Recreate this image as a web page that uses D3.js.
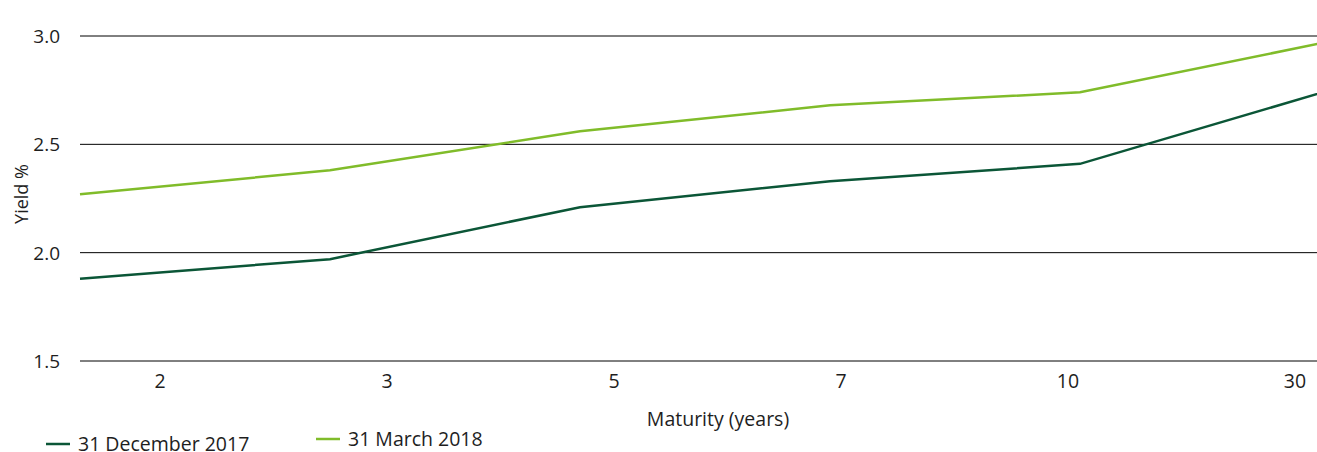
<!DOCTYPE html>
<meta charset="utf-8">
<script src="https://d3js.org/d3.v7.min.js"></script>
<style>
  body { margin: 0; background: #fff; }
  text { font-family: "Open Sans", sans-serif; fill: #1e1e1e; }
</style>
<div id="chart"></div>
<script>
// data
const maturities = ["2", "3", "5", "7", "10", "30"];
const dec2017 = [1.88, 1.97, 2.21, 2.33, 2.41, 2.75];
const mar2018 = [2.27, 2.38, 2.56, 2.68, 2.74, 2.975];
const yTicks = [1.5, 2.0, 2.5, 3.0];
const seriesNames = ["31 December 2017", "31 March 2018"];
const colors = ["#0b5637", "#80bc2a"];

const W = 1317, H = 452;
const svg = d3.select("#chart").append("svg")
  .attr("width", W).attr("height", H);

svg.append("clipPath").attr("id", "clip")
  .append("rect").attr("x", 0).attr("y", 0).attr("width", W).attr("height", H);

const y = d3.scaleLinear().domain([1.5, 3.0]).range([361, 36]);
// line points are spaced evenly, last one runs past the right edge
const x = d3.scalePoint().domain(maturities).range([80, 1330]);
// tick labels sit on their own spacing
const xLab = d3.scalePoint().domain(maturities).range([160, 1295]);

// gridlines
svg.append("g").selectAll("line").data(yTicks).enter().append("line")
  .attr("x1", 80).attr("x2", W)
  .attr("y1", d => y(d)).attr("y2", d => y(d))
  .attr("stroke", "#000").attr("stroke-width", 1);

// y labels
svg.append("g").selectAll("text").data(yTicks).enter().append("text")
  .attr("x", 60).attr("y", d => y(d) + 7)
  .attr("text-anchor", "end")
  .style("font-size", "19px")
  .text(d => d.toFixed(1));

svg.append("text")
  .attr("transform", "translate(28,194) rotate(-90)")
  .attr("text-anchor", "middle")
  .style("font-size", "18px")
  .text("Yield %");

// x labels
svg.append("g").selectAll("text").data(maturities).enter().append("text")
  .attr("x", d => xLab(d)).attr("y", 388)
  .attr("text-anchor", "middle")
  .style("font-size", "19.5px")
  .text(d => d);

svg.append("text")
  .attr("x", 718).attr("y", 426)
  .attr("text-anchor", "middle")
  .style("font-size", "19.5px")
  .text("Maturity (years)");

// lines
const line = d3.line()
  .x((d, i) => x(maturities[i]))
  .y(d => y(d));

const g = svg.append("g").attr("clip-path", "url(#clip)");
[dec2017, mar2018].forEach((s, k) => {
  g.append("path")
    .datum(s)
    .attr("fill", "none")
    .attr("stroke", colors[k])
    .attr("stroke-width", 2.5)
    .attr("d", line);
});

// legend
const legend = [
  {x: 46, y: 444},
  {x: 316, y: 439}
];
legend.forEach((p, k) => {
  svg.append("line")
    .attr("x1", p.x).attr("x2", p.x + 24)
    .attr("y1", p.y).attr("y2", p.y)
    .attr("stroke", colors[k]).attr("stroke-width", 2.5);
  svg.append("text")
    .attr("x", p.x + 32).attr("y", p.y + 7)
    .style("font-size", "19.5px")
    .text(seriesNames[k]);
});
</script>
